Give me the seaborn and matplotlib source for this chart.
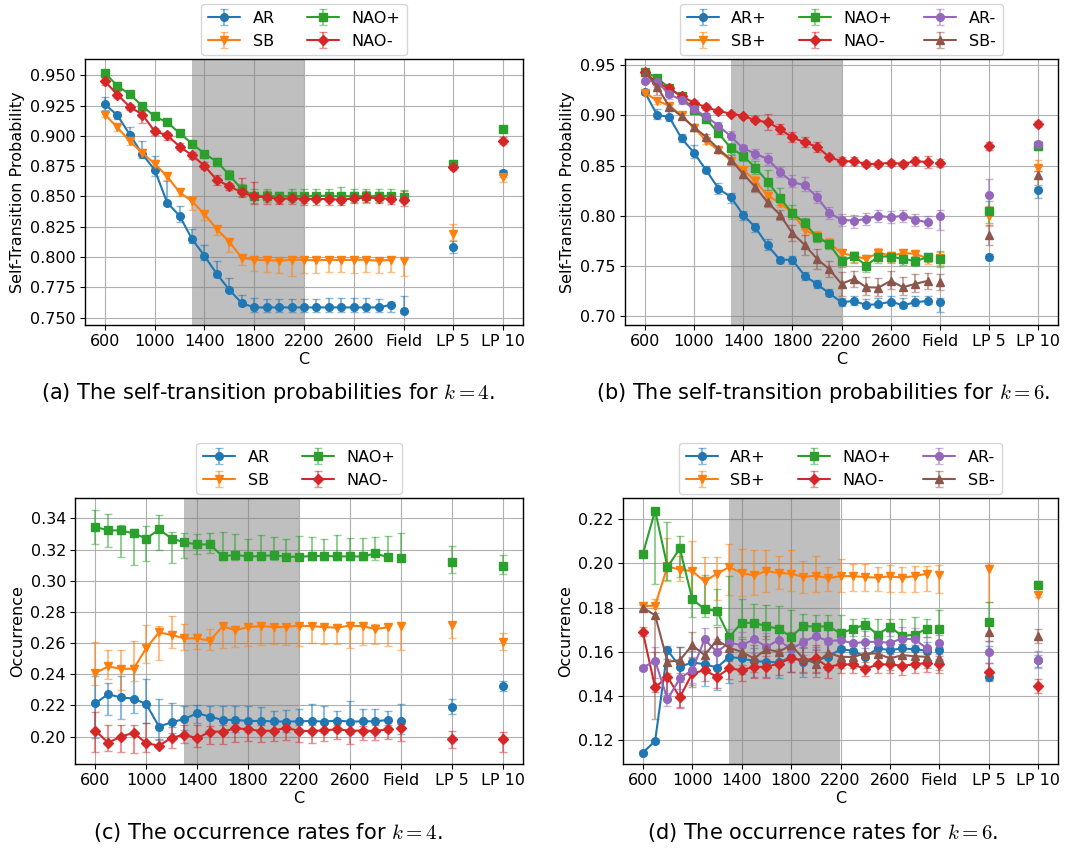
import matplotlib
matplotlib.use("Agg")
import matplotlib.pyplot as plt
from matplotlib.ticker import MultipleLocator, FormatStrFormatter
import seaborn as sns

# ---------------- data ----------------
C_VALUES = [600, 700, 800, 900, 1000, 1100, 1200, 1300, 1400, 1500, 1600, 1700,
            1800, 1900, 2000, 2100, 2200, 2300, 2400, 2500, 2600, 2700, 2800, 2900]
EXTRA_X = [3000, 3400, 3800]          # Field, LP 5, LP 10
XTICKS = [600, 1000, 1400, 1800, 2200, 2600, 3000, 3400, 3800]
XTICKLABELS = ["600", "1000", "1400", "1800", "2200", "2600", "Field", "LP 5", "LP 10"]
SHADE = (1300, 2200)

# (a) self-transition, k=4  (24 C values, then Field, LP 5, LP 10)
a_AR = [0.926, 0.917, 0.901, 0.885, 0.872, 0.845, 0.834, 0.815, 0.801, 0.786, 0.773, 0.762,
        0.7585, 0.7585, 0.7585, 0.7585, 0.7585, 0.7585, 0.7585, 0.7585, 0.7585, 0.7585, 0.7585, 0.7607,
        0.7552, 0.8084, 0.869]
a_AR_lo = [0.005, 0.003, 0.004, 0.003, 0.005, 0.002, 0.005, 0.003, 0.003, 0.002, 0.001, 0.002,
           0.004, 0.004, 0.004, 0.004, 0.004, 0.004, 0.004, 0.004, 0.004, 0.004, 0.004, 0.006,
           0.001, 0.005, 0.003]
a_AR_hi = [0.006, 0.003, 0.006, 0.011, 0.011, 0.018, 0.008, 0.008, 0.009, 0.011, 0.010, 0.007,
           0.008, 0.007, 0.007, 0.007, 0.007, 0.007, 0.008, 0.008, 0.008, 0.008, 0.007, 0.002,
           0.013, 0.005, 0.003]
a_SB = [0.9176, 0.907, 0.8956, 0.886, 0.877, 0.8665, 0.8535, 0.846, 0.8354, 0.823, 0.8126, 0.7994,
        0.7978, 0.7975, 0.797, 0.7978, 0.7978, 0.7973, 0.7978, 0.7975, 0.7978, 0.7978, 0.797, 0.7978,
        0.7967, 0.8194, 0.866]
a_SB_lo = [0.002, 0.003, 0.003, 0.003, 0.004, 0.003, 0.003, 0.007, 0.005, 0.005, 0.008, 0.006,
           0.009, 0.010, 0.010, 0.013, 0.011, 0.010, 0.010, 0.010, 0.011, 0.010, 0.010, 0.010,
           0.012, 0.005, 0.004]
a_SB_hi = [0.002, 0.002, 0.002, 0.003, 0.003, 0.002, 0.003, 0.004, 0.002, 0.002, 0.003, 0.002,
           0.002, 0.002, 0.002, 0.002, 0.002, 0.002, 0.002, 0.002, 0.002, 0.002, 0.002, 0.002,
           0.002, 0.008, 0.005]
a_NAOp = [0.9519, 0.9412, 0.9343, 0.9247, 0.916, 0.9113, 0.9022, 0.8937, 0.8852, 0.8788, 0.8676, 0.856,
          0.8505, 0.8505, 0.850, 0.8505, 0.850, 0.8505, 0.8505, 0.850, 0.8505, 0.850, 0.8505, 0.8505,
          0.8495, 0.877, 0.906]
a_NAOp_lo = [0.001, 0.002, 0.002, 0.002, 0.002, 0.002, 0.002, 0.002, 0.002, 0.002, 0.003, 0.006,
             0.006, 0.005, 0.005, 0.005, 0.005, 0.005, 0.005, 0.005, 0.005, 0.005, 0.005, 0.005,
             0.005, 0.002, 0.002]
a_NAOp_hi = [0.001, 0.003, 0.002, 0.002, 0.002, 0.002, 0.002, 0.002, 0.002, 0.003, 0.004, 0.004,
             0.006, 0.006, 0.004, 0.006, 0.006, 0.006, 0.006, 0.008, 0.006, 0.006, 0.006, 0.006,
             0.006, 0.002, 0.002]
a_NAOm = [0.945, 0.934, 0.924, 0.9176, 0.9038, 0.9005, 0.8912, 0.884, 0.8753, 0.8635, 0.8585, 0.8533,
          0.850, 0.8494, 0.848, 0.8484, 0.848, 0.848, 0.8478, 0.8473, 0.8484, 0.8492, 0.8486, 0.848,
          0.8473, 0.8742, 0.896]
a_NAOm_lo = [0.003, 0.003, 0.003, 0.007, 0.003, 0.004, 0.003, 0.003, 0.003, 0.004, 0.003, 0.004,
             0.006, 0.006, 0.004, 0.005, 0.005, 0.005, 0.005, 0.004, 0.004, 0.004, 0.004, 0.004,
             0.005, 0.002, 0.003]
a_NAOm_hi = [0.003, 0.003, 0.002, 0.003, 0.003, 0.003, 0.003, 0.003, 0.003, 0.004, 0.003, 0.012,
             0.012, 0.005, 0.004, 0.005, 0.005, 0.005, 0.005, 0.005, 0.005, 0.005, 0.005, 0.005,
             0.007, 0.002, 0.003]

# (b) self-transition, k=6
b_ARp = [0.9235, 0.9007, 0.8983, 0.8771, 0.8629, 0.8454, 0.827, 0.8187, 0.801, 0.7883, 0.7703, 0.756,
         0.756, 0.7403, 0.7317, 0.7227, 0.7137, 0.715, 0.711, 0.7117, 0.7143, 0.7107, 0.7137, 0.715,
         0.714, 0.7587, 0.8257]
b_ARp_lo = [0.002, 0.004, 0.004, 0.004, 0.005, 0.003, 0.005, 0.006, 0.005, 0.005, 0.004, 0.003,
            0.004, 0.004, 0.004, 0.003, 0.004, 0.004, 0.002, 0.003, 0.003, 0.003, 0.004, 0.003,
            0.010, 0.003, 0.008]
b_ARp_hi = [0.002, 0.006, 0.010, 0.004, 0.008, 0.004, 0.006, 0.004, 0.004, 0.004, 0.006, 0.003,
            0.004, 0.004, 0.004, 0.004, 0.004, 0.005, 0.006, 0.006, 0.006, 0.007, 0.006, 0.005,
            0.004, 0.003, 0.003]
b_SBp = [0.9228, 0.9149, 0.9096, 0.900, 0.8877, 0.8748, 0.8652, 0.855, 0.846, 0.8344, 0.820, 0.8127,
         0.8027, 0.786, 0.7793, 0.7727, 0.7627, 0.760, 0.7567, 0.7633, 0.760, 0.7627, 0.762, 0.7573,
         0.7583, 0.7993, 0.8477]
b_SBp_lo = [0.002, 0.003, 0.003, 0.003, 0.003, 0.003, 0.003, 0.003, 0.003, 0.004, 0.005, 0.004,
            0.004, 0.005, 0.005, 0.005, 0.006, 0.006, 0.006, 0.006, 0.006, 0.005, 0.005, 0.005,
            0.007, 0.010, 0.003]
b_SBp_hi = [0.002, 0.003, 0.003, 0.003, 0.003, 0.003, 0.003, 0.003, 0.003, 0.005, 0.006, 0.004,
            0.004, 0.005, 0.005, 0.005, 0.004, 0.004, 0.004, 0.004, 0.004, 0.004, 0.004, 0.004,
            0.006, 0.010, 0.008]
b_NAOp = [0.9437, 0.9377, 0.9272, 0.9189, 0.9056, 0.8964, 0.8824, 0.8675, 0.8599, 0.8477, 0.834, 0.8177,
          0.8027, 0.7927, 0.7787, 0.7717, 0.7547, 0.760, 0.7503, 0.7593, 0.7593, 0.757, 0.7547, 0.7587,
          0.757, 0.805, 0.8692]
b_NAOp_lo = [0.002, 0.003, 0.003, 0.003, 0.003, 0.003, 0.004, 0.006, 0.005, 0.006, 0.008, 0.007,
             0.006, 0.006, 0.005, 0.005, 0.006, 0.007, 0.006, 0.006, 0.006, 0.006, 0.005, 0.005,
             0.008, 0.012, 0.004]
b_NAOp_hi = [0.002, 0.003, 0.003, 0.003, 0.003, 0.003, 0.004, 0.005, 0.004, 0.007, 0.012, 0.010,
             0.008, 0.005, 0.004, 0.003, 0.005, 0.004, 0.011, 0.005, 0.005, 0.005, 0.005, 0.004,
             0.008, 0.010, 0.004]
b_NAOm = [0.9437, 0.9321, 0.9272, 0.9189, 0.9129, 0.908, 0.9046, 0.9017, 0.8997, 0.895, 0.8934, 0.8864,
          0.8781, 0.8732, 0.8689, 0.8586, 0.8543, 0.8543, 0.8517, 0.8517, 0.853, 0.8517, 0.8543, 0.8536,
          0.853, 0.8692, 0.8914]
b_NAOm_lo = [0.002, 0.004, 0.003, 0.003, 0.003, 0.003, 0.002, 0.002, 0.002, 0.002, 0.008, 0.005,
             0.005, 0.005, 0.005, 0.003, 0.004, 0.004, 0.003, 0.003, 0.003, 0.003, 0.004, 0.006,
             0.004, 0.004, 0.003]
b_NAOm_hi = [0.002, 0.004, 0.003, 0.003, 0.003, 0.003, 0.002, 0.002, 0.002, 0.004, 0.008, 0.005,
             0.005, 0.005, 0.005, 0.003, 0.004, 0.004, 0.003, 0.003, 0.003, 0.003, 0.004, 0.006,
             0.004, 0.004, 0.003]
b_ARm = [0.9344, 0.9338, 0.9209, 0.9156, 0.9063, 0.899, 0.8897, 0.8791, 0.8672, 0.8619, 0.8566, 0.8437,
         0.8334, 0.8305, 0.8188, 0.8027, 0.796, 0.795, 0.7967, 0.800, 0.7983, 0.800, 0.796, 0.7933,
         0.7993, 0.8203, 0.8719]
b_ARm_lo = [0.002, 0.003, 0.004, 0.004, 0.003, 0.003, 0.004, 0.004, 0.005, 0.005, 0.006, 0.005,
            0.005, 0.006, 0.006, 0.006, 0.006, 0.007, 0.006, 0.006, 0.006, 0.006, 0.006, 0.006,
            0.014, 0.016, 0.004]
b_ARm_hi = [0.002, 0.003, 0.004, 0.004, 0.003, 0.003, 0.004, 0.005, 0.003, 0.005, 0.006, 0.005,
            0.007, 0.008, 0.006, 0.006, 0.006, 0.006, 0.006, 0.006, 0.006, 0.006, 0.006, 0.006,
            0.006, 0.016, 0.003]
b_SBm = [0.9437, 0.9288, 0.9089, 0.899, 0.8884, 0.8785, 0.8666, 0.856, 0.8417, 0.8287, 0.8133, 0.801,
         0.7827, 0.771, 0.757, 0.7467, 0.732, 0.737, 0.7287, 0.7283, 0.735, 0.7287, 0.732, 0.735,
         0.7343, 0.7803, 0.841]
b_SBm_lo = [0.002, 0.008, 0.003, 0.003, 0.003, 0.003, 0.003, 0.005, 0.004, 0.005, 0.005, 0.005,
            0.008, 0.010, 0.010, 0.008, 0.012, 0.008, 0.008, 0.008, 0.008, 0.008, 0.008, 0.008,
            0.008, 0.010, 0.010]
b_SBm_hi = [0.002, 0.008, 0.003, 0.003, 0.003, 0.003, 0.003, 0.005, 0.004, 0.004, 0.005, 0.005,
            0.008, 0.010, 0.010, 0.008, 0.012, 0.008, 0.010, 0.010, 0.010, 0.010, 0.010, 0.008,
            0.008, 0.010, 0.004]

# (c) occurrence, k=4
c_AR = [0.2214, 0.2272, 0.2251, 0.2244, 0.2208, 0.2064, 0.2092, 0.2113, 0.215, 0.2128, 0.2107, 0.2107,
        0.210, 0.210, 0.2098, 0.2096, 0.2098, 0.210, 0.2096, 0.2103, 0.2096, 0.2098, 0.2098, 0.2107,
        0.2103, 0.2187, 0.2325]
c_AR_lo = [0.0224, 0.0133, 0.0138, 0.0094, 0.0123, 0.0086, 0.0071, 0.0071, 0.0065, 0.0086, 0.0086, 0.0075,
           0.0068, 0.0068, 0.0066, 0.0064, 0.0066, 0.0074, 0.0070, 0.0071, 0.0077, 0.0066, 0.0066, 0.0075,
           0.0086, 0.0040, 0.0030]
c_AR_hi = [0.0176, 0.0071, 0.0135, 0.0217, 0.0163, 0.0178, 0.0126, 0.0080, 0.0053, 0.0071, 0.0092, 0.0086,
           0.0093, 0.0088, 0.0069, 0.0075, 0.0082, 0.0110, 0.0097, 0.0064, 0.0133, 0.0080, 0.0076, 0.0056,
           0.0105, 0.0055, 0.0030]
c_SB = [0.2407, 0.245, 0.2435, 0.2435, 0.2568, 0.2669, 0.2652, 0.263, 0.263, 0.2615, 0.2708, 0.2682,
        0.2703, 0.2708, 0.2703, 0.2703, 0.2712, 0.2708, 0.2703, 0.2699, 0.2712, 0.2708, 0.2691, 0.2701,
        0.2708, 0.2718, 0.2604]
c_SB_lo = [0.0075, 0.0079, 0.0139, 0.0081, 0.0096, 0.0180, 0.0084, 0.0072, 0.0068, 0.0062, 0.0140, 0.0107,
           0.0122, 0.0122, 0.0109, 0.0114, 0.0133, 0.0107, 0.0109, 0.0103, 0.0144, 0.0122, 0.0100, 0.0120,
           0.0150, 0.0085, 0.0047]
c_SB_hi = [0.0200, 0.0108, 0.0123, 0.0181, 0.0146, 0.0039, 0.0120, 0.0093, 0.0028, 0.0078, 0.0015, 0.0026,
           0.0020, 0.0017, 0.0014, 0.0019, 0.0013, 0.0017, 0.0015, 0.0024, 0.0021, 0.0017, 0.0034, 0.0024,
           0.0017, 0.0010, 0.0060]
c_NAOp = [0.3346, 0.3323, 0.3323, 0.3304, 0.3271, 0.3329, 0.3271, 0.3246, 0.3233, 0.3233, 0.3156, 0.3166,
          0.3156, 0.3158, 0.3164, 0.3154, 0.3154, 0.3158, 0.316, 0.3156, 0.3156, 0.3156, 0.3175, 0.3151,
          0.3149, 0.312, 0.3094]
c_NAOp_lo = [0.0107, 0.0109, 0.0170, 0.0204, 0.0143, 0.0133, 0.0154, 0.0099, 0.0062, 0.0058, 0.0020, 0.0034,
             0.0024, 0.0026, 0.0032, 0.0022, 0.0022, 0.0026, 0.0028, 0.0024, 0.0024, 0.0024, 0.0043, 0.0019,
             0.0017, 0.0071, 0.0050]
c_NAOp_hi = [0.0108, 0.0103, 0.0034, 0.0027, 0.0080, 0.0092, 0.0039, 0.0058, 0.0064, 0.0071, 0.0158, 0.0131,
             0.0115, 0.0133, 0.0118, 0.0113, 0.0132, 0.0120, 0.0107, 0.0137, 0.0120, 0.0120, 0.0103, 0.0135,
             0.0155, 0.0101, 0.0073]
c_NAOm = [0.2038, 0.1961, 0.1999, 0.2025, 0.1957, 0.1942, 0.1993, 0.2012, 0.1989, 0.2032, 0.2032, 0.2053,
          0.2047, 0.2036, 0.2038, 0.2057, 0.2036, 0.2036, 0.204, 0.2047, 0.2038, 0.2038, 0.2036, 0.2047,
          0.2053, 0.1987, 0.1982]
c_NAOm_lo = [0.0135, 0.0051, 0.0097, 0.0132, 0.0054, 0.0017, 0.0068, 0.0056, 0.0054, 0.0082, 0.0082, 0.0086,
             0.0075, 0.0070, 0.0065, 0.0080, 0.0070, 0.0075, 0.0070, 0.0060, 0.0085, 0.0060, 0.0060, 0.0060,
             0.0080, 0.0060, 0.0080]
c_NAOm_hi = [0.0122, 0.0114, 0.0076, 0.0050, 0.0129, 0.0043, 0.0071, 0.0063, 0.0086, 0.0038, 0.0043, 0.0032,
             0.0039, 0.0040, 0.0040, 0.0030, 0.0040, 0.0040, 0.0040, 0.0030, 0.0040, 0.0030, 0.0040, 0.0030,
             0.0030, 0.0050, 0.0050]

# (d) occurrence, k=6
d_ARp = [0.1144, 0.1197, 0.1608, 0.1532, 0.1552, 0.1544, 0.1529, 0.1577, 0.157, 0.1558, 0.1555, 0.1552,
         0.1577, 0.1555, 0.1562, 0.1577, 0.1612, 0.1605, 0.1577, 0.1615, 0.1608, 0.1615, 0.1611, 0.1605,
         0.1608, 0.1487, 0.1562]
d_ARp_lo = [0.001, 0.001, 0.023, 0.018, 0.011, 0.010, 0.010, 0.012, 0.007, 0.007, 0.007, 0.007,
            0.007, 0.007, 0.006, 0.006, 0.006, 0.004, 0.004, 0.004, 0.004, 0.004, 0.004, 0.004,
            0.004, 0.0015, 0.003]
d_ARp_hi = [0.001, 0.001, 0.002, 0.009, 0.005, 0.006, 0.006, 0.005, 0.006, 0.006, 0.006, 0.006,
            0.006, 0.006, 0.006, 0.006, 0.006, 0.004, 0.004, 0.004, 0.004, 0.004, 0.004, 0.004,
            0.004, 0.014, 0.0023]
d_SBp = [0.1806, 0.1809, 0.1986, 0.1971, 0.1965, 0.1918, 0.1953, 0.1983, 0.1956, 0.1945, 0.1965, 0.1956,
         0.1953, 0.1938, 0.1944, 0.1933, 0.1942, 0.1942, 0.1938, 0.1935, 0.1941, 0.1935, 0.1942, 0.1953,
         0.1945, 0.1976, 0.1858]
d_SBp_lo = [0.001, 0.001, 0.0066, 0.005, 0.0141, 0.0109, 0.0121, 0.0128, 0.0105, 0.0090, 0.0095, 0.0071,
            0.0076, 0.0071, 0.0074, 0.0059, 0.0072, 0.0067, 0.0064, 0.0061, 0.0071, 0.0065, 0.0070, 0.0078,
            0.0078, 0.0150, 0.0012]
d_SBp_hi = [0.001, 0.003, 0.0126, 0.006, 0.0136, 0.0109, 0.0076, 0.0102, 0.0109, 0.0113, 0.0093, 0.0076,
            0.0107, 0.0074, 0.0091, 0.0049, 0.0078, 0.0056, 0.0058, 0.0050, 0.0050, 0.0050, 0.0045, 0.0035,
            0.0045, 0.0025, 0.0013]
d_NAOp = [0.2041, 0.2238, 0.1983, 0.2067, 0.1839, 0.1792, 0.1785, 0.1668, 0.1731, 0.1731, 0.1716, 0.1704,
          0.1668, 0.1717, 0.1713, 0.1716, 0.1683, 0.1704, 0.1723, 0.1678, 0.1713, 0.1671, 0.1678, 0.1704,
          0.1704, 0.1734, 0.1903]
d_NAOp_lo = [0.001, 0.033, 0.006, 0.0129, 0.008, 0.0034, 0.0065, 0.006, 0.0063, 0.0071, 0.0056, 0.0050,
             0.0038, 0.0056, 0.0050, 0.0053, 0.0025, 0.0034, 0.0053, 0.0025, 0.0043, 0.0034, 0.0025, 0.0035,
             0.0030, 0.0050, 0.0015]
d_NAOp_hi = [0.001, 0.0005, 0.0205, 0.0056, 0.014, 0.0153, 0.0100, 0.0274, 0.0108, 0.0086, 0.0096, 0.0105,
             0.0120, 0.0056, 0.0052, 0.0049, 0.0082, 0.0046, 0.0032, 0.0072, 0.0037, 0.0079, 0.0078, 0.0042,
             0.0084, 0.0090, 0.0015]
d_NAOm = [0.169, 0.1439, 0.1487, 0.1394, 0.1502, 0.1517, 0.1487, 0.1525, 0.1517, 0.1532, 0.1532, 0.1547,
          0.157, 0.1562, 0.157, 0.1532, 0.1543, 0.1543, 0.1522, 0.1543, 0.1543, 0.1537, 0.1543, 0.155,
          0.1543, 0.151, 0.1445]
d_NAOm_lo = [0.002, 0.002, 0.008, 0.005, 0.005, 0.005, 0.005, 0.005, 0.005, 0.005, 0.005, 0.005,
             0.006, 0.006, 0.006, 0.005, 0.004, 0.004, 0.003, 0.004, 0.004, 0.004, 0.004, 0.004,
             0.004, 0.004, 0.003]
d_NAOm_hi = [0.002, 0.016, 0.008, 0.007, 0.005, 0.005, 0.005, 0.005, 0.005, 0.005, 0.005, 0.005,
             0.006, 0.006, 0.006, 0.005, 0.004, 0.004, 0.003, 0.004, 0.004, 0.004, 0.004, 0.004,
             0.004, 0.004, 0.003]
d_ARm = [0.1528, 0.156, 0.1386, 0.148, 0.1517, 0.1656, 0.160, 0.1641, 0.163, 0.1656, 0.1623, 0.1653,
         0.1612, 0.1645, 0.1671, 0.1648, 0.1653, 0.1638, 0.1645, 0.1645, 0.1641, 0.166, 0.1656, 0.1615,
         0.1638, 0.160, 0.1565]
d_ARm_lo = [0.001, 0.008, 0.003, 0.005, 0.006, 0.005, 0.006, 0.006, 0.006, 0.006, 0.006, 0.006,
            0.006, 0.006, 0.006, 0.005, 0.005, 0.005, 0.005, 0.005, 0.005, 0.005, 0.005, 0.005,
            0.005, 0.005, 0.004]
d_ARm_hi = [0.001, 0.006, 0.003, 0.005, 0.006, 0.005, 0.006, 0.006, 0.006, 0.006, 0.006, 0.006,
            0.006, 0.006, 0.006, 0.005, 0.005, 0.005, 0.005, 0.005, 0.005, 0.005, 0.005, 0.005,
            0.005, 0.005, 0.004]
d_SBm = [0.180, 0.1765, 0.1555, 0.1562, 0.163, 0.1585, 0.1653, 0.1618, 0.160, 0.157, 0.1611, 0.160,
         0.163, 0.157, 0.1547, 0.1595, 0.1577, 0.1577, 0.1592, 0.1592, 0.157, 0.1585, 0.158, 0.1577,
         0.157, 0.1689, 0.1671]
d_SBm_lo = [0.001, 0.047, 0.005, 0.006, 0.006, 0.006, 0.006, 0.006, 0.006, 0.006, 0.006, 0.006,
            0.006, 0.006, 0.006, 0.006, 0.005, 0.005, 0.005, 0.005, 0.005, 0.005, 0.005, 0.005,
            0.005, 0.004, 0.003]
d_SBm_hi = [0.001, 0.001, 0.005, 0.006, 0.006, 0.006, 0.006, 0.006, 0.006, 0.006, 0.006, 0.006,
            0.006, 0.006, 0.006, 0.006, 0.005, 0.005, 0.005, 0.005, 0.005, 0.005, 0.005, 0.005,
            0.005, 0.004, 0.003]

LABELS_K4 = ["AR", "SB", "NAO+", "NAO-"]
LABELS_K6 = ["AR+", "SB+", "NAO+", "NAO-", "AR-", "SB-"]
CAPTIONS = ["(a) The self-transition probabilities for $k=4$.",
            "(b) The self-transition probabilities for $k=6$.",
            "(c) The occurrence rates for $k=4$.",
            "(d) The occurrence rates for $k=6$."]

# ---------------- style ----------------
sns.set_theme(style="ticks", palette="tab10")
plt.rcParams.update({
    "font.family": ["DejaVu Sans"],
    "font.size": 11.5,
    "text.color": "black",
    "axes.labelcolor": "black",
    "axes.edgecolor": "black",
    "axes.linewidth": 1.0,
    "axes.grid": True,
    "grid.color": "#b0b0b0",
    "grid.linewidth": 0.8,
    "xtick.color": "black",
    "ytick.color": "black",
    "xtick.labelsize": 11.5,
    "ytick.labelsize": 11.5,
    "axes.labelsize": 11.5,
    "legend.fontsize": 11.5,
    "legend.labelcolor": "black",
    "mathtext.fontset": "cm",
})
pal = sns.color_palette("tab10")
MARKERS = {"AR": "o", "SB": "v", "NAO+": "s", "NAO-": "D",
           "AR+": "o", "SB+": "v", "AR-": "o", "SB-": "^"}
COLORS = {"AR": pal[0], "SB": pal[1], "NAO+": pal[2], "NAO-": pal[3],
          "AR+": pal[0], "SB+": pal[1], "AR-": pal[4], "SB-": pal[5]}
MSIZE = {"o": 5.5, "v": 6, "^": 6, "s": 5.5, "D": 5.5}

W, H = 1079, 852
fig = plt.figure(figsize=(W / 100, H / 100), dpi=100)
rects = [(85, 59, 523, 325), (625, 59, 1058, 325), (75, 498, 523, 764), (623, 498, 1058, 764)]
axes = [fig.add_axes([l / W, 1 - b / H, (r - l) / W, (b - t) / H]) for (l, t, r, b) in rects]

panels = [
    (LABELS_K4, [(a_AR, a_AR_lo, a_AR_hi), (a_SB, a_SB_lo, a_SB_hi),
                 (a_NAOp, a_NAOp_lo, a_NAOp_hi), (a_NAOm, a_NAOm_lo, a_NAOm_hi)],
     "Self-Transition Probability", (0.744, 0.9634), 2, 0.025, "%.3f"),
    (LABELS_K6, [(b_ARp, b_ARp_lo, b_ARp_hi), (b_SBp, b_SBp_lo, b_SBp_hi),
                 (b_NAOp, b_NAOp_lo, b_NAOp_hi), (b_NAOm, b_NAOm_lo, b_NAOm_hi),
                 (b_ARm, b_ARm_lo, b_ARm_hi), (b_SBm, b_SBm_lo, b_SBm_hi)],
     "Self-Transition Probability", (0.691, 0.9563), 3, 0.05, "%.2f"),
    (LABELS_K4, [(c_AR, c_AR_lo, c_AR_hi), (c_SB, c_SB_lo, c_SB_hi),
                 (c_NAOp, c_NAOp_lo, c_NAOp_hi), (c_NAOm, c_NAOm_lo, c_NAOm_hi)],
     "Occurrence", (0.1824, 0.3531), 2, 0.02, "%.2f"),
    (LABELS_K6, [(d_ARp, d_ARp_lo, d_ARp_hi), (d_SBp, d_SBp_lo, d_SBp_hi),
                 (d_NAOp, d_NAOp_lo, d_NAOp_hi), (d_NAOm, d_NAOm_lo, d_NAOm_hi),
                 (d_ARm, d_ARm_lo, d_ARm_hi), (d_SBm, d_SBm_lo, d_SBm_hi)],
     "Occurrence", (0.1093, 0.2295), 3, 0.02, "%.2f"),
]

n = len(C_VALUES)
for ax, (labels, series, ylab, ylim, ncol, ystep, yfmt) in zip(axes, panels):
    ax.axvspan(SHADE[0], SHADE[1], color="gray", alpha=0.5, lw=0, zorder=1)
    handles = []
    for lab, (vals, lo, hi) in zip(labels, series):
        m = MARKERS[lab]
        col = COLORS[lab]
        eb = ax.errorbar(C_VALUES, vals[:n], yerr=[lo[:n], hi[:n]], color=col, marker=m,
                         ms=MSIZE[m], lw=1.5, capsize=3, elinewidth=1.5, label=lab, zorder=3)
        eb2 = ax.errorbar(EXTRA_X, vals[n:], yerr=[lo[n:], hi[n:]], color=col, marker=m,
                          ms=MSIZE[m], linestyle="none", capsize=3, elinewidth=1.5, zorder=3)
        for e in (eb, eb2):
            for c in e[1]:
                c.set_alpha(0.5)
            for c in e[2]:
                c.set_alpha(0.5)
        handles.append(eb)
    ax.set_xticks(XTICKS)
    ax.set_xticklabels(XTICKLABELS)
    ax.set_xlim(440, 3960)
    ax.set_ylim(*ylim)
    ax.yaxis.set_major_locator(MultipleLocator(ystep))
    ax.yaxis.set_major_formatter(FormatStrFormatter(yfmt))
    ax.set_xlabel("C", labelpad=2)
    ax.set_ylabel(ylab, labelpad=4)
    ax.grid(True)
    ax.tick_params(direction="out", length=3.5, width=0.8, pad=3)
    for s in ax.spines.values():
        s.set_visible(True)
        s.set_color("black")
    ax.legend(handles=handles, labels=labels, ncol=ncol, loc="lower center",
              bbox_to_anchor=(0.5, 1.015), frameon=True, columnspacing=2.0,
              handlelength=2.0, borderaxespad=0.0)

cap_pos = [(268, 393), (823, 393), (268, 833), (823, 833)]
for (cx, cy), txt in zip(cap_pos, CAPTIONS):
    fig.text(cx / W, 1 - cy / H, txt, ha="center", va="center", fontsize=15, color="black")

fig.savefig("out.png", dpi=100)
